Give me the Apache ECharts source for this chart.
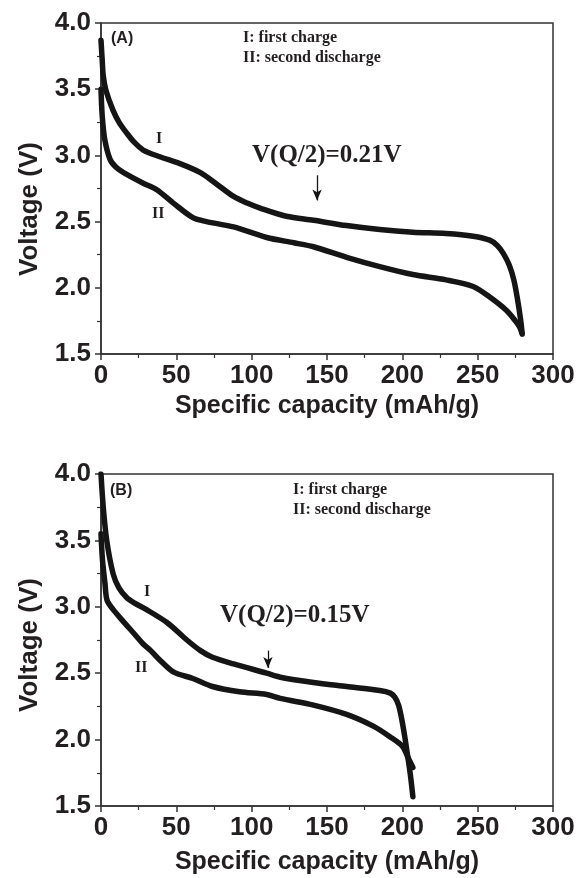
<!DOCTYPE html>
<html>
<head>
<meta charset="UTF-8">
<title>Voltage profiles</title>
<script src="https://cdn.jsdelivr.net/npm/echarts@6/dist/echarts.min.js"></script>
<style>
html,body{margin:0;padding:0;background:#fff;}
#chart{width:586px;height:878px;}
</style>
</head>
<body>
<div id="chart"></div>
<script type="text/javascript">
// panel (A): [capacity mAh/g, voltage V]
var chargeA=[[0,3.87],[0.8,3.72],[1.5,3.6],[3.3,3.49],[8,3.34],[12,3.25],[17,3.17],[22,3.10],[28,3.04],[39,2.99],[52,2.94],[66,2.87],[76,2.79],[88,2.69],[97,2.64],[106,2.60],[123,2.54],[141,2.51],[163,2.47],[185,2.44],[207,2.42],[229,2.41],[247,2.39],[258,2.36],[263,2.32],[267,2.26],[271,2.17],[274,2.06],[276.5,1.91],[278.5,1.76],[279.5,1.66]];
var dischargeA=[[0,3.5],[0.8,3.3],[2.5,3.12],[6,2.97],[10,2.91],[15,2.87],[28,2.79],[37,2.74],[48,2.64],[61,2.53],[70,2.50],[88,2.46],[110,2.38],[128,2.34],[141,2.31],[163,2.23],[185,2.16],[207,2.10],[229,2.06],[247,2.01],[258,1.93],[269,1.83],[275,1.75],[278,1.70],[279.5,1.65]];
// panel (B)
var chargeB=[[0,4.0],[1.5,3.75],[3.8,3.5],[8,3.25],[12,3.14],[17,3.07],[22,3.03],[30,2.98],[44,2.88],[57,2.75],[66,2.67],[74,2.62],[88,2.57],[110,2.50],[119,2.47],[141,2.43],[163,2.40],[185,2.37],[192,2.35],[195,2.32],[197.5,2.26],[199.5,2.16],[201.5,2.03],[203.5,1.88],[205.5,1.72],[207,1.57]];
var dischargeB=[[0,3.55],[1,3.35],[2.6,3.18],[4,3.05],[8,2.98],[14,2.90],[21,2.81],[28,2.72],[33,2.67],[39,2.60],[48,2.51],[61,2.46],[74,2.40],[92,2.36],[110,2.34],[119,2.31],[141,2.26],[163,2.19],[181,2.10],[192,2.02],[200,1.95],[204,1.86],[207,1.79]];
// arrows pointing at V(Q/2): [x, yFrom, yTo]
var arrowA=[143.4,2.85,2.66];
var arrowB=[110.8,2.67,2.54];

var sans='"Liberation Sans", Arial, sans-serif';
var serif='"Liberation Serif", "Times New Roman", serif';
var ink='#231f20';

function xAx(i,gap){
	return {
		gridIndex:i,type:'value',min:0,max:300,interval:50,
		name:'Specific capacity (mAh/g)',nameLocation:'middle',nameGap:gap,
		nameTextStyle:{fontFamily:sans,fontWeight:'bold',fontSize:25,color:ink},
		axisLine:{lineStyle:{color:'#333',width:1.5}},
		axisTick:{length:6,lineStyle:{color:'#333',width:1.5}},
		minorTick:{show:true,splitNumber:2,length:4,lineStyle:{color:'#333',width:1.2}},
		splitLine:{show:false},
		axisLabel:{margin:9,fontFamily:sans,fontWeight:'bold',fontSize:26,color:ink}
	};
}
function yAx(i){
	return {
		gridIndex:i,type:'value',min:1.5,max:4.0,interval:0.5,
		axisLine:{lineStyle:{color:'#333',width:1.5}},
		axisTick:{length:6,lineStyle:{color:'#333',width:1.5}},
		minorTick:{show:true,splitNumber:2,length:4,lineStyle:{color:'#333',width:1.2}},
		splitLine:{show:false},
		axisLabel:{margin:10,fontFamily:sans,fontWeight:'bold',fontSize:26,color:ink,
			formatter:function(v){return v.toFixed(1);}}
	};
}
function curve(data,i,arrow){
	var s={
		type:'line',xAxisIndex:i,yAxisIndex:i,data:data,
		showSymbol:false,smooth:0.3,
		lineStyle:{color:'#151515',width:5.5,cap:'round',join:'round'},
		z:3
	};
	if(arrow){
		s.markLine={
			silent:true,symbol:['none','arrow'],symbolSize:[7,11],
			label:{show:false},
			lineStyle:{color:'#151515',width:1.3,type:'solid'},
			data:[[{coord:[arrow[0],arrow[1]]},{coord:[arrow[0],arrow[2]]}]]
		};
	}
	return s;
}
function txt(x,y,s,font,size){
	return {type:'text',left:x,top:y,style:{text:s,font:'bold '+size+'px '+font,fill:ink}};
}
function ytitle(cy){
	return {type:'text',x:30,y:cy,rotation:Math.PI/2,
		style:{text:'Voltage (V)',font:'bold 26px '+sans,fill:ink,align:'center',verticalAlign:'middle'}};
}

var mychart=echarts.init(document.getElementById('chart'));
var option={
	backgroundColor:'#fff',
	animation:false,
	grid:[
		{left:101,top:23,width:452,height:331,show:true,borderColor:'#333',borderWidth:1.5,backgroundColor:'transparent'},
		{left:101,top:474,width:452,height:332,show:true,borderColor:'#333',borderWidth:1.5,backgroundColor:'transparent'}
	],
	xAxis:[xAx(0,40),xAx(1,44)],
	yAxis:[yAx(0),yAx(1)],
	series:[
		curve(chargeA,0,arrowA),
		curve(dischargeA,0),
		curve(chargeB,1,arrowB),
		curve(dischargeB,1)
	],
	graphic:[
		ytitle(209),
		ytitle(645),
		txt(111,31,'(A)',sans,16),
		txt(243,30,'I: first charge',serif,16),
		txt(243,50,'II: second discharge',serif,16),
		txt(252,143,'V(Q/2)=0.21V',serif,25),
		txt(156,131,'I',serif,16),
		txt(152,206,'II',serif,16),
		txt(110,483,'(B)',sans,16),
		txt(293,482,'I: first charge',serif,16),
		txt(293,502,'II: second discharge',serif,16),
		txt(220,603,'V(Q/2)=0.15V',serif,25),
		txt(144,584,'I',serif,16),
		txt(135,660,'II',serif,16)
	]
};
mychart.setOption(option);
</script>
</body>
</html>
